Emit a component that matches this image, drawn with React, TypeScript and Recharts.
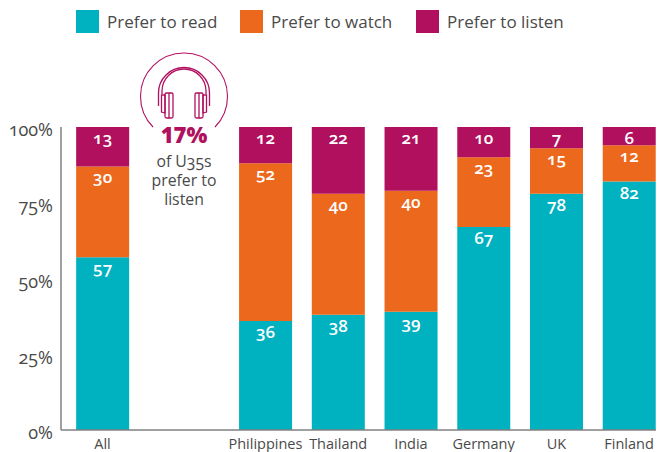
import { BarChart, Bar, XAxis, YAxis, LabelList, Customized } from "recharts";

const CATEGORIES = ["All", "Philippines", "Thailand", "India", "Germany", "UK", "Finland"];
// the "All" bar stands apart from the markets, so the x axis is numeric
const SLOTS = [0, 2.24, 3.24, 4.24, 5.24, 6.24, 7.24];
const READ = [57, 36, 38, 39, 67, 78, 82];
const WATCH = [30, 52, 40, 40, 23, 15, 12];
const LISTEN = [13, 12, 22, 21, 10, 7, 6];
const Y_TICKS = [0, 25, 50, 75, 100];

const TEAL = "#00b1bf";
const ORANGE = "#ec681c";
const PURPLE = "#b0105e";
const TEXT = "#4a4a4a";
const FONT = "'Open Sans', sans-serif";
const ONUM = { fontFeatureSettings: "'onum'" };

const data = CATEGORIES.map((name, i) => ({
  name,
  slot: SLOTS[i],
  read: READ[i],
  watch: WATCH[i],
  listen: LISTEN[i],
}));

const LEGEND = [
  { label: "Prefer to read", color: TEAL, x: 76, textX: 107 },
  { label: "Prefer to watch", color: ORANGE, x: 240, textX: 271 },
  { label: "Prefer to listen", color: PURPLE, x: 416, textX: 447 },
];

function Legend() {
  return (
    <g>
      {LEGEND.map((l) => (
        <g key={l.label}>
          <rect x={l.x} y={10} width={23} height={23} fill={l.color} />
          <text x={l.textX} y={28} fontSize={17} fill={TEXT} fontFamily={FONT}>
            {l.label}
          </text>
        </g>
      ))}
    </g>
  );
}

function Callout() {
  return (
    <g>
      <path
        d="M 153 127 A 43.5 43.5 0 1 1 215 127"
        fill="none"
        stroke={PURPLE}
        strokeWidth={1.1}
      />
      <g fill="none" stroke={PURPLE} strokeWidth={1.3}>
        <path d="M 158.5 106 L 158.5 93 A 25.5 25.5 0 0 1 209.5 93 L 209.5 106" />
        <path d="M 162 94 L 162 91 A 22 22 0 0 1 206 91 L 206 94" />
        <path d="M 161.5 95 L 161.5 112 L 165 113 L 165 95 Z" />
        <path d="M 206.5 95 L 206.5 112 L 203 113 L 203 95 Z" />
        <rect x={165} y={93} width={8} height={25} rx={1.5} />
        <rect x={195} y={93} width={8} height={25} rx={1.5} />
        <path d="M 169 93 L 169 118 M 199 93 L 199 118" />
      </g>
      <text
        x={184}
        y={143}
        textAnchor="middle"
        fontSize={22}
        fontWeight={800}
        fill={PURPLE}
        fontFamily={FONT}
      >
        17%
      </text>
      <g fontSize={15.8} fill={TEXT} fontFamily={FONT} textAnchor="middle" style={ONUM}>
        <text x={184} y={167}>of U35s</text>
        <text x={184} y={186}>prefer to</text>
        <text x={184} y={205}>listen</text>
      </g>
    </g>
  );
}

const barLabel = {
  fill: "#ffffff",
  fontSize: 17,
  fontWeight: 600,
  fontFamily: FONT,
  style: ONUM,
};

export default function App() {
  return (
    <div style={{ position: "absolute", left: 0, top: 0 }}>
      <BarChart
        width={658}
        height={452}
        data={data}
        margin={{ top: 127, right: 2, bottom: 0, left: 0 }}
      >
        <XAxis
          type="number"
          dataKey="slot"
          domain={[-0.571, 7.61]}
          ticks={SLOTS}
          tickFormatter={(v: number) => CATEGORIES[SLOTS.indexOf(v)]}
          interval={0}
          tickLine={false}
          axisLine={{ stroke: "#808080", strokeWidth: 1.5 }}
          tick={{ fontSize: 14.5, fill: TEXT, fontFamily: FONT }}
          tickMargin={3}
          height={22}
        />
        <YAxis
          type="number"
          domain={[0, 100]}
          ticks={Y_TICKS}
          tickFormatter={(v: number) => `${v}%`}
          tickLine={false}
          tickSize={0}
          axisLine={{ stroke: "#808080", strokeWidth: 1.5 }}
          tick={{ fontSize: 18, fill: TEXT, fontFamily: FONT, style: ONUM, dy: 3 }}
          tickMargin={8}
          width={61}
        />
        <Bar dataKey="read" stackId="a" fill={TEAL} barSize={53} isAnimationActive={false}>
          <LabelList dataKey="read" position="insideTop" offset={5} {...barLabel} />
        </Bar>
        <Bar dataKey="watch" stackId="a" fill={ORANGE} barSize={53} isAnimationActive={false}>
          <LabelList dataKey="watch" position="insideTop" offset={5} {...barLabel} />
        </Bar>
        <Bar dataKey="listen" stackId="a" fill={PURPLE} barSize={53} isAnimationActive={false}>
          <LabelList dataKey="listen" position="insideTop" offset={5} {...barLabel} />
        </Bar>
        <Customized component={Legend} />
        <Customized component={Callout} />
      </BarChart>
    </div>
  );
}
